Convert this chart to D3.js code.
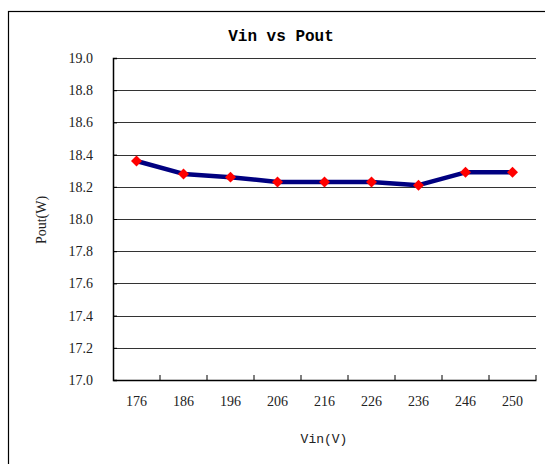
<!DOCTYPE html>
<html><head><meta charset="utf-8">
<script src="https://cdn.jsdelivr.net/npm/d3@7"></script>
<style>body{margin:0;background:#fff}</style>
</head><body>
<svg id="c" width="545" height="464"></svg>
<script>
const categories = ["176","186","196","206","216","226","236","246","250"];
const pout = [18.36, 18.28, 18.26, 18.23, 18.23, 18.23, 18.21, 18.29, 18.29];
const yTicks = [17.0,17.2,17.4,17.6,17.8,18.0,18.2,18.4,18.6,18.8,19.0];

const svg = d3.select("#c");
const L=113, R=536, T=58, B=380;
svg.append("rect").attr("x",8.5).attr("y",11.5).attr("width",600).attr("height",600)
  .attr("fill","#fff").attr("stroke","#000").attr("stroke-width",1.2);

const x = d3.scaleBand().domain(categories).range([L,R]);
const y = d3.scaleLinear().domain([17,19]).range([B,T]);

// gridlines
svg.append("g").selectAll("line").data(yTicks.filter(d=>d>17)).join("line")
  .attr("x1",L).attr("x2",R).attr("y1",d=>Math.round(y(d))+0.5).attr("y2",d=>Math.round(y(d))+0.5)
  .attr("stroke","#333").attr("stroke-width",1);

const serif = "Liberation Serif, DejaVu Serif, serif";
// y axis
const ya = svg.append("g").attr("transform",`translate(${L},0)`)
  .call(d3.axisLeft(y).tickValues(yTicks).tickFormat(d3.format(".1f")).tickSize(-4).tickPadding(20));
ya.attr("font-family",null);
ya.select(".domain").attr("stroke","#000").attr("stroke-width",1.5);
ya.selectAll("text").style("font-family",serif).style("font-size","14px").attr("fill","#222");

// x axis
const xa = svg.append("g").attr("transform",`translate(0,${B})`)
  .call(d3.axisBottom(x).tickSize(0).tickPadding(16));
xa.attr("font-family",null);
xa.select(".domain").attr("stroke","#000").attr("stroke-width",1.5);
xa.selectAll("text").style("font-family",serif).style("font-size","14px").attr("fill","#222");
// x tick marks at band boundaries
const bounds = categories.map(c=>x(c)).concat([R]);
svg.append("g").selectAll("line").data(bounds.slice(1)).join("line")
  .attr("x1",d=>d).attr("x2",d=>d).attr("y1",B).attr("y2",B-5)
  .attr("stroke","#000").attr("stroke-width",1);

// line
const line = d3.line().x((d,i)=>x(categories[i])+x.bandwidth()/2).y(d=>y(d));
svg.append("path").datum(pout).attr("d",line).attr("fill","none")
  .attr("stroke","#000080").attr("stroke-width",4.5).attr("stroke-linejoin","round");
svg.append("g").selectAll("path").data(pout).join("path")
  .attr("d",d3.symbol(d3.symbolSquare,60)())
  .attr("transform",(d,i)=>`translate(${x(categories[i])+x.bandwidth()/2},${y(d)}) rotate(45)`)
  .attr("fill","#ff0000");

// titles
svg.append("text").attr("x",281).attr("y",41).attr("text-anchor","middle")
  .style("font-family","Liberation Mono, DejaVu Sans Mono, monospace").style("font-weight","bold")
  .style("font-size","16px").text("Vin vs Pout");
svg.append("text").attr("x",324).attr("y",443).attr("text-anchor","middle")
  .style("font-family","Liberation Mono, monospace").style("font-size","13px").attr("fill","#222").text("Vin(V)");
svg.append("text").attr("transform","translate(46,220) rotate(-90)").attr("text-anchor","middle")
  .style("font-family",serif).style("font-size","14px").attr("fill","#222").text("Pout(W)");
</script>
</body></html>
